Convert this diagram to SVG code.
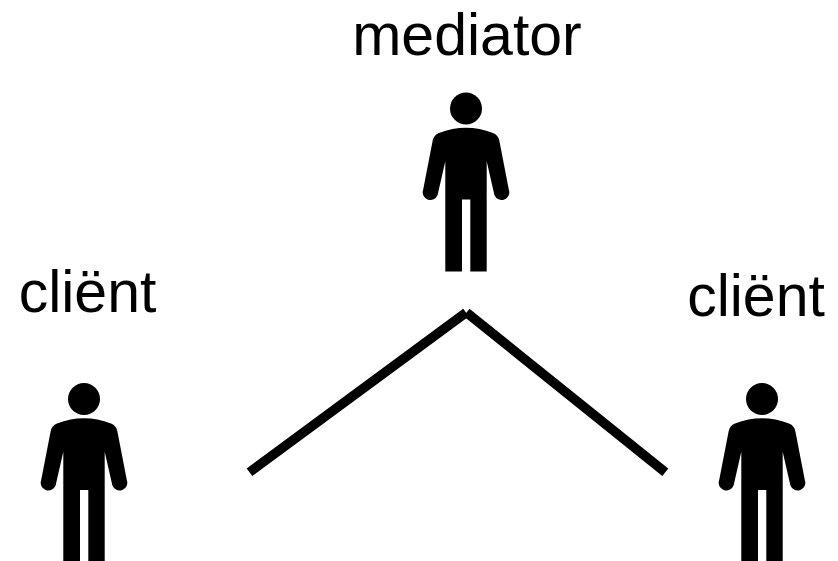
<svg xmlns="http://www.w3.org/2000/svg" xmlns:xlink="http://www.w3.org/1999/xlink" width="838" height="561" viewBox="0 0 838 561">
  <style>
    .label { font-family: "Liberation Sans", Arial, sans-serif; font-size: 59px; fill: #000; text-anchor: middle; }
    .conn { stroke: #000; stroke-width: 9.5; stroke-linecap: butt; fill: none; }
    .fig { fill: #000; }
  </style>
  <defs>
    <g id="person">
      <circle cx="0" cy="0" r="16"/>
      <path d="M -27,24.5 Q 0,14 27,24.5 Q 32.5,26.5 33.5,33 L 42.8,81 A 7.6 7.6 0 0 1 28.4,86.5 L 20.7,52.7 L 20.7,163 L 4.3,163 L 4.3,91 L -4,91 L -4,163 L -20.7,163 L -20.7,52.7 L -28.4,86.5 A 7.6 7.6 0 0 1 -42.8,81 L -33.5,33 Q -32.5,26.5 -27,24.5 Z"/>
    </g>
  </defs>
  <rect width="838" height="561" fill="#fff"/>
  <g id="connectors">
    <line class="conn" x1="249.5" y1="472.2" x2="466" y2="312.6"/>
    <line class="conn" x1="466.5" y1="312.5" x2="665.3" y2="472.2"/>
  </g>
  <g id="mediator">
    <text class="label" x="467" y="55">mediator</text>
    <use class="fig" xlink:href="#person" href="#person" transform="translate(466,108.5)"/>
  </g>
  <g id="client-left">
    <text class="label" x="87.5" y="312">cliënt</text>
    <use class="fig" xlink:href="#person" href="#person" transform="translate(84,399)"/>
  </g>
  <g id="client-right">
    <text class="label" x="756" y="316">cliënt</text>
    <use class="fig" xlink:href="#person" href="#person" transform="translate(762,399)"/>
  </g>
</svg>
